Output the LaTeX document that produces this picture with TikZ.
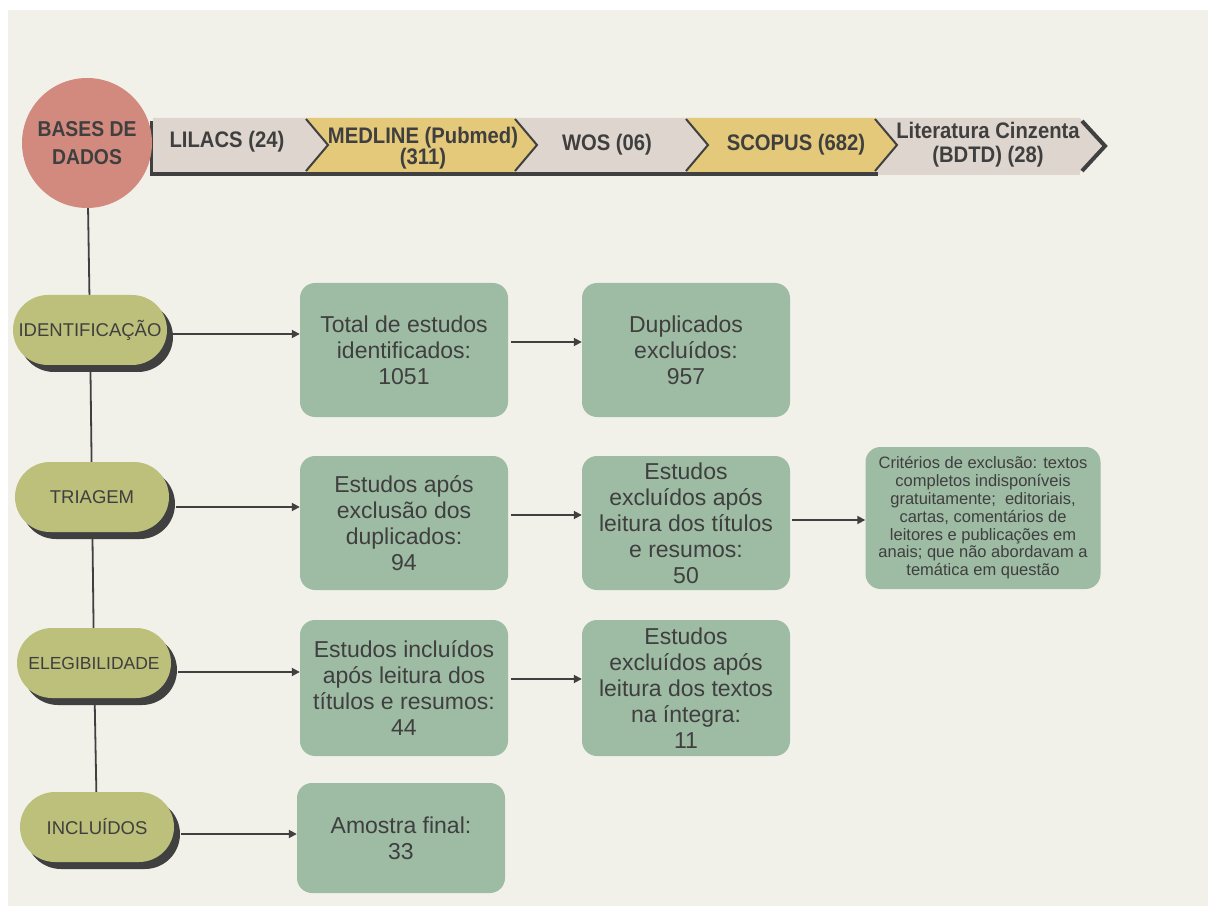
\documentclass[tikz,border=0pt]{standalone}
\usepackage{fontspec}
\setmainfont{Liberation Sans}
\newfontfamily\bandfont[FakeStretch=0.9]{Liberation Sans}
\usetikzlibrary{shapes,arrows.meta,positioning,calc,shadows,backgrounds}

\definecolor{panelbg}{HTML}{F1F1EA}
\definecolor{basered}{HTML}{D38A7E}
\definecolor{pillolive}{HTML}{BCC07A}
\definecolor{boxgreen}{HTML}{9EBBA4}
\definecolor{bandgray}{HTML}{DED6CE}
\definecolor{bandyellow}{HTML}{E4C97A}
\definecolor{darkline}{HTML}{404040}
\definecolor{ink}{HTML}{3F3F3F}

\begin{document}
\begin{tikzpicture}[x=1pt, y=-1pt,
    box/.style={fill=boxgreen, rounded corners=15pt, minimum width=208pt, minimum height=134pt,
        inner sep=2pt, align=center, text=ink, font=\fontsize{23}{26}\selectfont},
    stage/.style={fill=pillolive, rounded corners=35pt, minimum width=154pt, minimum height=70pt,
        inner sep=1pt, text=ink, font=\fontsize{18.5}{20}\selectfont,
        drop shadow={shadow xshift=6pt, shadow yshift=-7pt, fill=darkline, opacity=1}},
    flow/.style={draw=darkline, line width=1.8pt, -{Triangle[length=8pt,width=8pt]}},
    band/.style={font=\bandfont\bfseries\fontsize{22.5}{21}\selectfont, text=ink, align=center, inner sep=0pt}
]
    \useasboundingbox (0,0) rectangle (1208,909);

    % database band: dark base, then the chevrons left to right
    \fill[darkline] (150,121) rectangle (878,176);
    \fill[bandgray] (153,118) -- (306,118) -- (328,145) -- (306,172) -- (153,172) -- cycle;
    \foreach \xa/\xb/\col in {306/515/bandyellow, 515/686/bandgray, 686/875/bandyellow, 875/1080/bandgray}
        \fill[\col] (\xa,118) -- (\xb,118) -- (\xb+22,145) -- (\xb,172) -- (\xa,172) -- (\xa+22,145) -- cycle;
    \fill[bandgray] (878,172) rectangle (1080,175);
    \foreach \xb in {306,515,686,875}
        \draw[darkline, line width=2pt] (\xb,119) -- (\xb+22,145) -- (\xb,171);
    \draw[darkline, line width=4pt] (1082,121) -- (1105,146) -- (1082,171);

    \node[band] (lilacs) at (227,142) {LILACS (24)};
    \node[band] (medline) at (423,148) {MEDLINE (Pubmed)\\(311)};
    \node[band] (wos) at (607,145) {WOS (06)};
    \node[band] (scopus) at (796,145) {SCOPUS (682)};
    \node[band, font=\bandfont\bfseries\fontsize{22.5}{24}\selectfont] (cinza) at (988,145) {Literatura Cinzenta\\(BDTD) (28)};

    % sources circle
    \node[circle, fill=basered, minimum size=130pt, inner sep=0pt, align=center, text=ink,
        font=\bandfont\bfseries\fontsize{21.5}{28}\selectfont] (bases) at (87,143) {BASES DE\\DADOS};

    % stages
    \node[stage] (ident) at (90,330) {IDENTIFICAÇÃO};
    \node[stage] (triagem) at (92,497) {TRIAGEM};
    \node[stage, font=\fontsize{17.5}{20}\selectfont] (eleg) at (94,663) {ELEGIBILIDADE};
    \node[stage] (incl) at (97,827) {INCLUÍDOS};

    % counts
    \node[box] (total) at (404,350) {Total de estudos\\identificados:\\1051};
    \node[box] (dup) at (686,350) {Duplicados\\excluídos:\\957};
    \node[box] (apos) at (404,523) {Estudos após\\exclusão dos\\duplicados:\\94};
    \node[box] (exclres) at (686,523) {Estudos\\excluídos após\\leitura dos títulos\\e resumos:\\50};
    \node[box, minimum width=235pt, minimum height=142pt, font=\fontsize{16.5}{17.8}\selectfont] (criterios) at (983,518)
        {Critérios de exclusão: textos\\completos indisponíveis\\gratuitamente;\ \ editoriais,\\cartas, comentários de\\leitores e publicações em\\anais; que não abordavam a\\temática em questão};
    \node[box, minimum height=136pt] (inclres) at (404,688) {Estudos incluídos\\após leitura dos\\títulos e resumos:\\44};
    \node[box, minimum height=136pt] (excltxt) at (686,688) {Estudos\\excluídos após\\leitura dos textos\\na íntegra:\\11};
    \node[box, minimum height=110pt] (amostra) at (401,838) {Amostra final:\\33};

    % arrows
    \draw[flow] ([xshift=4pt,yshift=-4pt]ident.east) -- ([yshift=-4pt]ident.east -| total.west);
    \draw[flow] ([xshift=3pt,yshift=8pt]total.east) -- ([yshift=8pt]total.east -| dup.west);
    \draw[flow] ([xshift=7pt,yshift=-10pt]triagem.east) -- ([yshift=-10pt]triagem.east -| apos.west);
    \draw[flow] ([xshift=3pt,yshift=8pt]apos.east) -- ([yshift=8pt]apos.east -| exclres.west);
    \draw[flow] ([xshift=2pt,yshift=3pt]exclres.east) -- ([yshift=3pt]exclres.east -| criterios.west);
    \draw[flow] ([xshift=7pt,yshift=-9pt]eleg.east) -- ([yshift=-9pt]eleg.east -| inclres.west);
    \draw[flow] ([xshift=3pt,yshift=9pt]inclres.east) -- ([yshift=9pt]inclres.east -| excltxt.west);
    \draw[flow] ([xshift=7pt,yshift=-7pt]incl.east) -- ([yshift=-7pt]incl.east -| amostra.west);

    % panel and spine behind everything
    \begin{scope}[on background layer]
        \fill[white] (0,0) rectangle (1208,909);
        \fill[panelbg] (8,10) rectangle (1208,906);
        \draw[darkline, line width=1.8pt] (bases) -- (ident) -- (triagem) -- (eleg) -- (incl);
    \end{scope}
\end{tikzpicture}
\end{document}
